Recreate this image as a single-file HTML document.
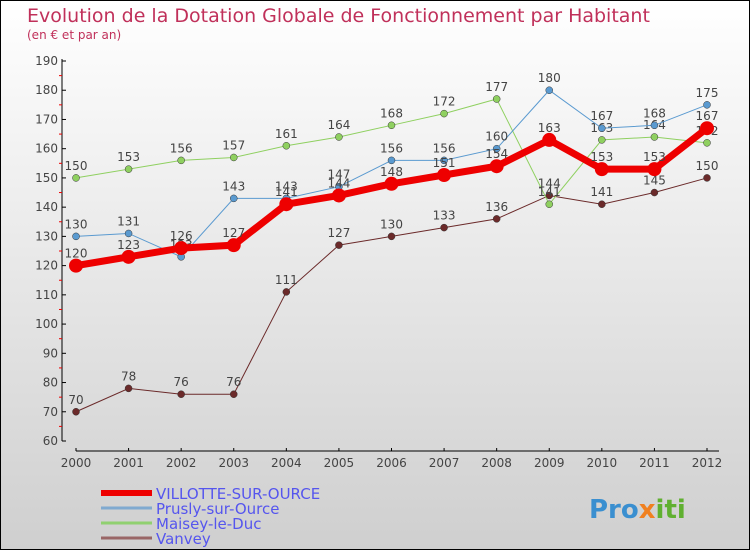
<!DOCTYPE html>
<html><head><meta charset="utf-8"><style>
body{margin:0}
#c{width:748px;height:548px;border:1px solid #000;background:linear-gradient(#ffffff,#cfcfcf);position:relative;font-family:"DejaVu Sans","Liberation Sans",sans-serif;overflow:hidden}
svg{position:absolute;left:0;top:0}
</style></head><body>
<div id="c">
<svg id="s" width="748" height="548">
<text x="26" y="21" font-size="19" fill="#c0305a">Evolution de la Dotation Globale de Fonctionnement par Habitant</text>
<text x="26" y="38" font-size="12" fill="#c0305a">(en € et par an)</text>
<text x="588" y="517" font-size="26" font-weight="bold" fill="#3a8fd0">Pro<tspan fill="#f08020">x</tspan><tspan fill="#60b030">iti</tspan></text>
</svg>
</div>
<script>
const years=[2000,2001,2002,2003,2004,2005,2006,2007,2008,2009,2010,2011,2012];
const villotte=[120,123,126,127,141,144,148,151,154,163,153,153,167];
const prusly=[130,131,123,143,143,147,156,156,160,180,167,168,175];
const maisey=[150,153,156,157,161,164,168,172,177,141,163,164,162];
const vanvey=[70,78,76,76,111,127,130,133,136,144,141,145,150];
const yTicks=[60,70,80,90,100,110,120,130,140,150,160,170,180,190];
const series=[
 {name:'Vanvey',data:vanvey,color:'#6b2a2a',w:1,r:3.5,leg:'#996666'},
 {name:'Maisey-le-Duc',data:maisey,color:'#8fd060',w:1,r:3.5,leg:'#90d070'},
 {name:'Prusly-sur-Ource',data:prusly,color:'#5a9ad0',w:1,r:3.5,leg:'#80aad0'},
 {name:'VILLOTTE-SUR-OURCE',data:villotte,color:'#ee0000',w:7,r:7,leg:'#ee0000'}
];
const s=document.getElementById('s');const NS='http://www.w3.org/2000/svg';
function X(i){return 75+i*(706-75)/(years.length-1);}
function Y(v){return 440-(v-60)*(380/130);}
function mk(t,a,p){const e=document.createElementNS(NS,t);for(const k in a)e.setAttribute(k,a[k]);(p||s).appendChild(e);return e;}
let e;
e=mk('line',{x1:61,y1:58,x2:61,y2:440,stroke:'#000'});


e=mk('line',{x1:75,y1:450,x2:718,y2:450,stroke:'#000'});


yTicks.forEach((v,i)=>{
 mk('line',{x1:61,y1:Y(v),x2:65,y2:Y(v),stroke:'#000'});
 if(i<yTicks.length-1)mk('line',{x1:58,y1:Y(v+5),x2:61,y2:Y(v+5),stroke:'#e00'});
 e=mk('text',{x:57,y:Y(v)+4,'font-size':12,fill:'#444','text-anchor':'end'});e.textContent=v;
 
 
});
years.forEach((y,i)=>{
 mk('line',{x1:X(i),y1:447,x2:X(i),y2:450,stroke:'#000'});
 e=mk('text',{x:X(i),y:466,'font-size':12,fill:'#444','text-anchor':'middle'});e.textContent=y;
 
 
});
series.forEach(sr=>{
 const g=mk('g',{});
 
 
 mk('polyline',{points:sr.data.map((v,i)=>X(i)+','+Y(v)).join(' '),fill:'none',stroke:sr.color,'stroke-width':sr.w},g);
 sr.data.forEach((v,i)=>{
  e=mk('circle',{cx:X(i),cy:Y(v),r:sr.r,fill:sr.color,stroke:sr.w>1?'none':'#333','stroke-width':0.5},g);
  
  
  e=mk('text',{x:X(i),y:Y(v)-8,'font-size':12,fill:'#444','text-anchor':'middle'},g);e.textContent=v;
  
  
 });
});
const leg=[series[3],series[2],series[1],series[0]];
leg.forEach((sr,i)=>{
 const y=492+i*15;
 const g=mk('g',{});
 
 
 mk('line',{x1:100,y1:y,x2:151,y2:y,stroke:sr.leg,'stroke-width':sr.w>1?6:3},g);
 e=mk('text',{x:155,y:y+6,'font-size':15,fill:'#5555ee'},g);e.textContent=sr.name;
});
</script>
</body></html>
